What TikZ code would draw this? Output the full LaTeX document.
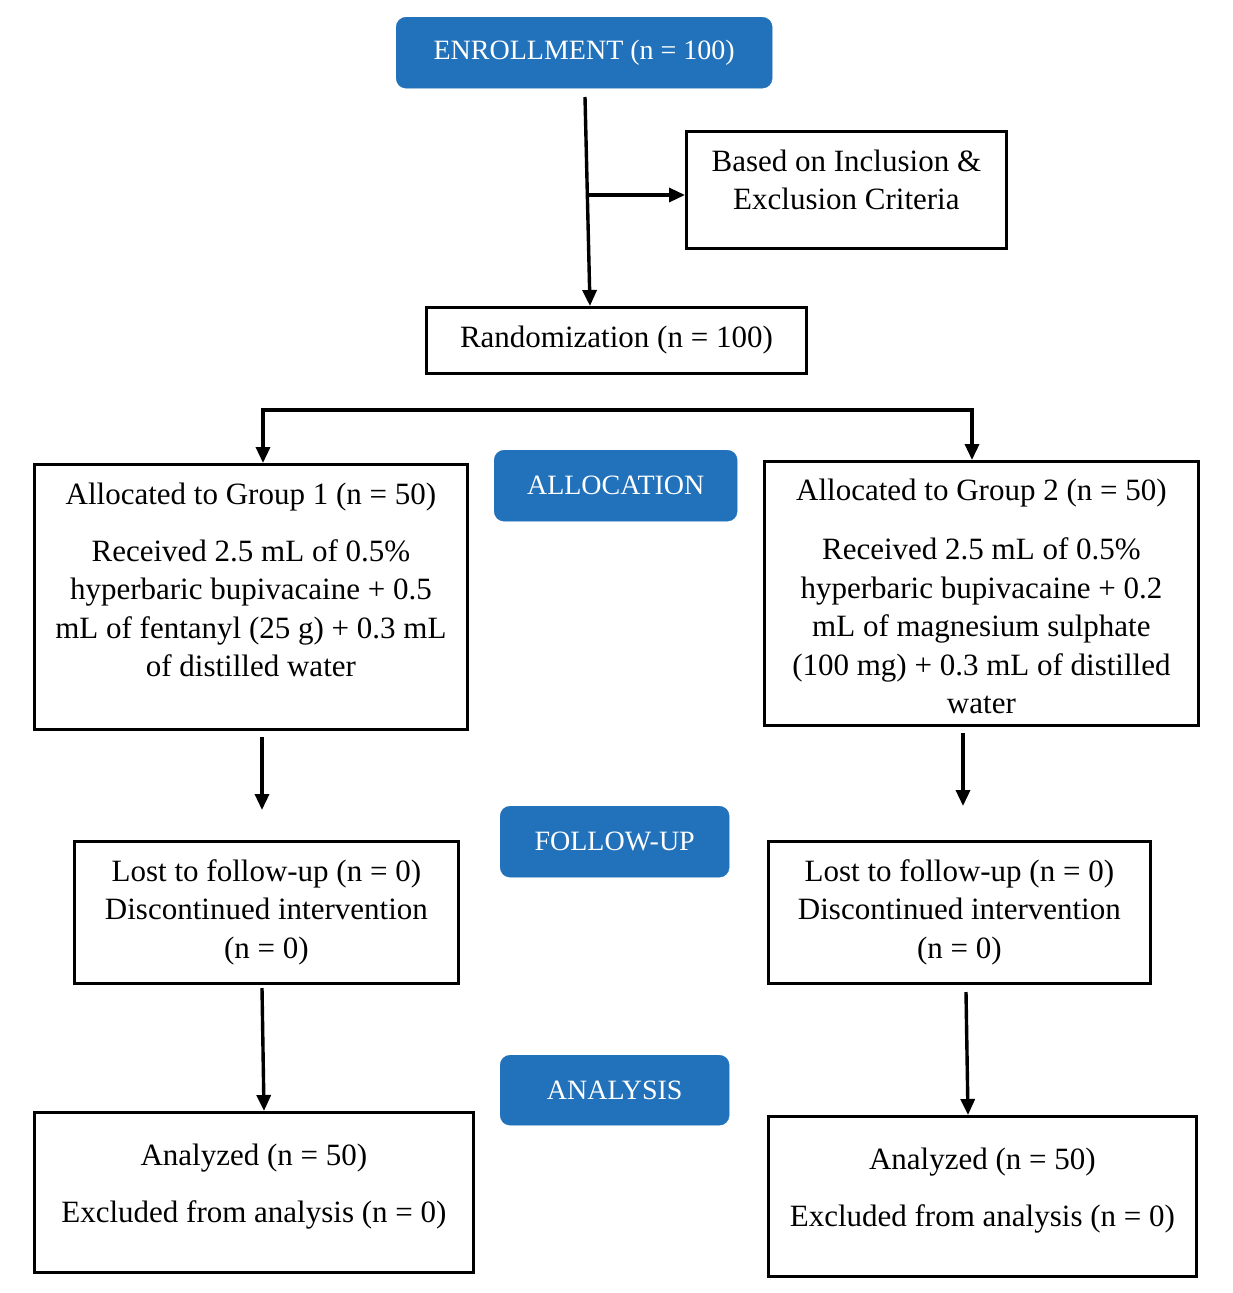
\documentclass[tikz,border=0pt]{standalone}
\usepackage{fontspec}
\setmainfont{Liberation Serif}
\usetikzlibrary{arrows.meta}
\definecolor{hdrblue}{RGB}{33,113,187}
\tikzset{
  plainbox/.style={draw=black, line width=2.8pt, inner sep=0pt, anchor=north west, align=center},
  bluebox/.style={fill=hdrblue, draw=hdrblue, rounded corners=10pt, text=white, anchor=north west,
    font=\fontsize{28}{34}\selectfont, inner sep=0pt},
  conn/.style={line width=3.4pt, -{Triangle[length=16pt,width=14pt]}},
  bar/.style={line width=3.4pt}
}
\newcommand{\boxtext}[4]{\parbox[c][#2pt][t]{#1pt}{\centering\vspace*{#3pt}#4\par}}
\begin{document}
\begin{tikzpicture}[x=1pt,y=-1pt, font=\fontsize{31}{38.5}\selectfont]
\useasboundingbox (0,0) rectangle (1232,1293);
% header boxes
\node[bluebox, minimum width=376pt, minimum height=71pt] (enroll) at (396,17) {ENROLLMENT (n = 100)};
\node[bluebox, minimum width=243pt, minimum height=71pt] (alloc) at (494,450) {ALLOCATION};
\node[bluebox, minimum width=229pt, minimum height=71pt] (follow) at (500,806) {FOLLOW-UP};
\node[bluebox, minimum width=229pt, minimum height=70pt] (analysis) at (500,1055) {ANALYSIS};
% plain boxes
\node[plainbox] (based) at (685,130) {\boxtext{320}{117}{13}{\strut Based on Inclusion \&\\\strut Exclusion Criteria}};
\node[plainbox, minimum width=380pt, minimum height=66pt] (random) at (425,306) {Randomization (n = 100)};
\node[plainbox] (g1) at (33,463) {\boxtext{433}{265}{13}{\strut Allocated to Group 1 (n = 50)\\[18.5pt]\strut Received 2.5 mL of 0.5\%\\\strut hyperbaric bupivacaine + 0.5\\\strut mL of fentanyl (25 g) + 0.3 mL\\\strut of distilled water}};
\node[plainbox] (g2) at (763,460) {\boxtext{434}{264}{12}{\strut Allocated to Group 2 (n = 50)\\[21pt]\strut Received 2.5 mL of 0.5\%\\\strut hyperbaric bupivacaine + 0.2\\\strut mL of magnesium sulphate\\\strut (100 mg) + 0.3 mL of distilled\\\strut water}};
\node[plainbox] (lost1) at (73,840) {\boxtext{384}{142}{13}{\strut Lost to follow-up (n = 0)\\\strut Discontinued intervention\\\strut (n = 0)}};
\node[plainbox] (lost2) at (767,840) {\boxtext{382}{142}{13}{\strut Lost to follow-up (n = 0)\\\strut Discontinued intervention\\\strut (n = 0)}};
\node[plainbox] (an1) at (33,1111) {\boxtext{439}{160}{26}{\strut Analyzed (n = 50)\\[18.5pt]\strut Excluded from analysis (n = 0)}};
\node[plainbox] (an2) at (767,1115) {\boxtext{428}{160}{26}{\strut Analyzed (n = 50)\\[18.5pt]\strut Excluded from analysis (n = 0)}};
% connector coordinates
\coordinate (e0) at (585,97);
\coordinate (j) at (589,195);
\coordinate (bl) at (261,410);
\coordinate (br) at (974,410);
\coordinate (bl1) at (263,410);
\coordinate (br1) at (972,410);
\coordinate (a1s) at (262,737);
\coordinate (a1e) at (262,810);
\coordinate (a2s) at (963,733);
\coordinate (a2e) at (963,806);
\coordinate (b1s) at (262,988);
\coordinate (b2s) at (966,992);
% connectors
\draw[conn] (e0) -- (590,306);
\draw[conn] (j) -- (based.west |- j);
\draw[bar] (bl) -- (br);
\draw[conn] (bl1) -- (bl1 |- g1.north);
\draw[conn] (br1) -- (br1 |- g2.north);
\draw[conn] (a1s) -- (a1e);
\draw[conn] (a2s) -- (a2e);
\draw[conn] (b1s) -- (264,1111);
\draw[conn] (b2s) -- (968,1115);
\end{tikzpicture}
\end{document}
